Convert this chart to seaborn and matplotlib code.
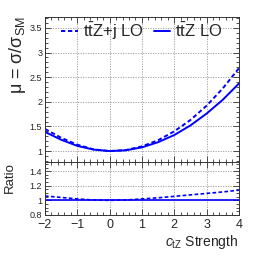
import matplotlib
matplotlib.use("Agg")
import matplotlib.pyplot as plt
from matplotlib.ticker import MultipleLocator, FormatStrFormatter
import pandas as pd
import numpy as np
import seaborn as sns

# valores
ctz = [-2, -1.5, -1, -0.5, 0, 0.5, 1, 1.5, 2, 2.5, 3, 3.5, 4]
mu_ttz = [1.39, 1.23, 1.105, 1.03, 1.0, 1.015, 1.075, 1.18, 1.325, 1.52, 1.76, 2.04, 2.37]
mu_ttzj = [1.45, 1.27, 1.13, 1.035, 1.0, 1.02, 1.095, 1.22, 1.40, 1.63, 1.92, 2.27, 2.68]
ratio_ttz = [1.0] * len(ctz)
ratio_ttzj = [1.06, 1.04, 1.02, 1.005, 1.0, 1.005, 1.02, 1.035, 1.055, 1.075, 1.095, 1.115, 1.14]

df = pd.DataFrame({"ctz": ctz, "ttz": mu_ttz, "ttzj": mu_ttzj,
                   "r_ttz": ratio_ttz, "r_ttzj": ratio_ttzj})

sns.set_style("ticks")
plt.rcParams["font.family"] = ["Liberation Sans", "DejaVu Sans"]
plt.rcParams["mathtext.fontset"] = "custom"
plt.rcParams["mathtext.rm"] = "Liberation Sans"
plt.rcParams["mathtext.it"] = "Liberation Sans:italic"

fig = plt.figure(figsize=(2.66, 2.59), dpi=100)
ax1 = fig.add_axes([0.169, 0.373, 0.729, 0.561])
ax2 = fig.add_axes([0.169, 0.170, 0.729, 0.203], sharex=ax1)

dash = (0, (2.2, 1.4))
sns.lineplot(data=df, x="ctz", y="ttzj", ax=ax1, color="#0000ff", lw=1.4,
             linestyle=dash, label=r"t$\bar{\rm t}$Z+j LO")
sns.lineplot(data=df, x="ctz", y="ttz", ax=ax1, color="#0000ff", lw=1.4,
             label=r"t$\bar{\rm t}$Z LO")
sns.lineplot(data=df, x="ctz", y="r_ttzj", ax=ax2, color="#0000ff", lw=1.2,
             linestyle=dash, legend=False)
sns.lineplot(data=df, x="ctz", y="r_ttz", ax=ax2, color="#0000ff", lw=1.2,
             legend=False)

ax1.set_xlim(-2, 4)
ax1.set_ylim(0.77, 3.72)
ax2.set_ylim(0.8, 1.52)

for ax in (ax1, ax2):
    ax.grid(True, color="#999999", linestyle=(0, (1.5, 1.5)), lw=0.6)
    ax.tick_params(which="both", direction="in", top=True, right=True,
                   width=0.6, color="#333333")
    ax.tick_params(which="major", length=4)
    ax.tick_params(which="minor", length=2)
    ax.xaxis.set_major_locator(MultipleLocator(1))
    ax.xaxis.set_minor_locator(MultipleLocator(0.2))
    ax.yaxis.set_major_formatter(FormatStrFormatter("%g"))
    for s in ax.spines.values():
        s.set_linewidth(0.7)
        s.set_color("#333333")
    ax.set_xlabel("")

ax1.yaxis.set_major_locator(MultipleLocator(0.5))
ax1.yaxis.set_minor_locator(MultipleLocator(0.1))
ax2.yaxis.set_major_locator(MultipleLocator(0.2))
ax2.yaxis.set_minor_locator(MultipleLocator(0.05))
ax1.tick_params(axis="y", labelsize=6.5, pad=2)
ax2.tick_params(axis="y", labelsize=6.5, pad=2)
ax1.tick_params(axis="x", labelbottom=False)
ax2.tick_params(axis="x", labelsize=9, pad=3)

ax1.set_ylabel("μ = σ/σ$_{\\rm SM}$", fontsize=13, loc="top")
ax1.yaxis.set_label_coords(-0.09, 1.01)
ax2.set_ylabel("Ratio", fontsize=9.5, loc="top")
ax2.yaxis.set_label_coords(-0.15, 1.0)
ax2.set_xlabel(r"$c_{\rm tZ}$ Strength", fontsize=10, loc="right", labelpad=1)

ax1.legend(loc="upper center", ncol=2, frameon=False, fontsize=12,
           handlelength=1.0, handletextpad=0.3, columnspacing=0.6,
           borderaxespad=0.1, bbox_to_anchor=(0.5, 1.03))

fig.savefig("out.png", dpi=100)
